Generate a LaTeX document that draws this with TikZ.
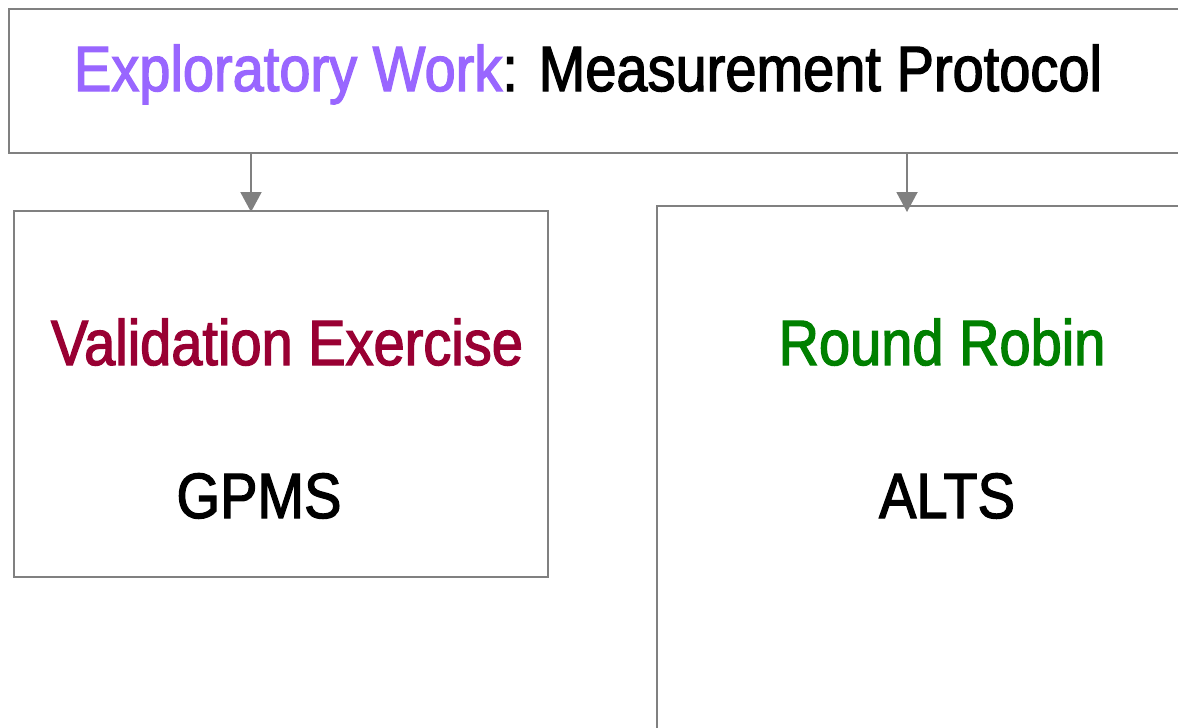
\documentclass[tikz,border=0pt]{standalone}
\usepackage{fontspec}
\setmainfont[FakeStretch=0.875,FakeBold=2]{Liberation Sans}
\usetikzlibrary{arrows.meta}
\definecolor{linegray}{HTML}{808080}
\definecolor{expurple}{HTML}{9966FF}
\definecolor{valred}{HTML}{990033}
\definecolor{rrgreen}{HTML}{008000}
\tikzset{
  box/.style={draw=linegray, line width=2pt, rectangle, anchor=north west, inner sep=0pt},
  arr/.style={draw=linegray, line width=2pt, -{Triangle[width=21pt 0,length=20pt 0]}},
  lbl/.style={anchor=base, inner sep=0pt, font=\fontsize{64}{70}\selectfont}
}
\begin{document}
\begin{tikzpicture}[x=1pt,y=-1pt]
\useasboundingbox (0,0) rectangle (1178,728);
\clip (0,0) rectangle (1178,728);
\node[box, minimum width=1240pt, minimum height=144pt] (top) at (8,8) {};
\node[box, minimum width=534pt, minimum height=366pt] (left) at (13,210) {};
\node[box, minimum width=600pt, minimum height=600pt] (right) at (656,205) {};
\coordinate (a1s) at (251,152);
\coordinate (a1e) at (251,212);
\coordinate (a2s) at (907,152);
\coordinate (a2e) at (907,212);
\draw[arr] (a1s) -- (a1e);
\draw[arr] (a2s) -- (a2e);
\node[lbl] (title) at (588,91) {\textcolor{expurple}{Exploratory Work}: Measurement Protocol};
\node[lbl, text=valred] (val) at (287,365) {Validation Exercise};
\node[lbl] (gpms) at (259,518) {GPMS};
\node[lbl, text=rrgreen] (rr) at (942,365) {Round Robin};
\node[lbl] (alts) at (947,518) {ALTS};
\end{tikzpicture}
\end{document}
